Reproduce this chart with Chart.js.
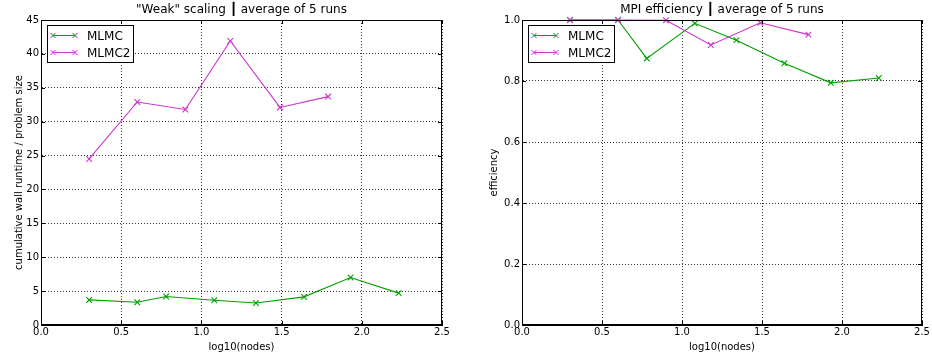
<!DOCTYPE html>
<html>
<head>
<meta charset="utf-8">
<script src="https://cdn.jsdelivr.net/npm/chart.js@4/dist/chart.umd.min.js"></script>
<style>
  html, body { margin: 0; padding: 0; background: #fff; }
  .box { position: absolute; top: 0; width: 466px; height: 355px; }
</style>
</head>
<body>
<div class="box" style="left:0"><canvas id="weak"></canvas></div>
<div class="box" style="left:466px"><canvas id="eff"></canvas></div>
<script>
// log10(nodes) for each run series
const xMLMC = [0.30, 0.60, 0.78, 1.08, 1.34, 1.64, 1.93, 2.23];
const xMLMC2 = [0.30, 0.60, 0.90, 1.18, 1.49, 1.79];

// cumulative wall runtime / problem size
const runtimeMLMC = [3.7, 3.35, 4.2, 3.65, 3.25, 4.15, 7.0, 4.7];
const runtimeMLMC2 = [24.5, 32.9, 31.8, 41.9, 32.1, 33.7];

// MPI efficiency
const effMLMC = [1.0, 1.0, 0.874, 0.989, 0.934, 0.858, 0.794, 0.810];
const effMLMC2 = [1.0, 1.0, 0.999, 0.918, 0.991, 0.952];

const xTicks = [0.0, 0.5, 1.0, 1.5, 2.0, 2.5];
const runtimeTicks = [0, 5, 10, 15, 20, 25, 30, 35, 40, 45];
const effTicks = [0.0, 0.2, 0.4, 0.6, 0.8, 1.0];

const GREEN = '#00a000';
const MAGENTA = '#cc33cc';
const FONT = 'DejaVu Sans';

function pts(xs, ys) {
    return xs.map((x, i) => ({ x: x, y: ys[i] }));
}

// order: lower is drawn on top, so MLMC2 sits over MLMC like in matplotlib
function series(label, color, xs, ys, order) {
    return {
        label: label,
        data: pts(xs, ys),
        order: order,
        borderColor: color,
        backgroundColor: color,
        borderWidth: 1.1,
        pointStyle: 'crossRot',
        pointRadius: 4,
        pointBorderWidth: 1.1,
        tension: 0,
        clip: false
    };
}

// title over the plot area, box frame, inward ticks and a matplotlib-like legend
const framePlugin = {
    id: 'frame',
    afterDraw(chart, args, opts) {
        const ctx = chart.ctx;
        const a = chart.chartArea;
        ctx.save();
        ctx.fillStyle = '#000';
        ctx.font = '12px "' + FONT + '"';
        ctx.textAlign = 'center';
        ctx.textBaseline = 'alphabetic';
        ctx.fillText(opts.title, (a.left + a.right) / 2, 13);

        ctx.strokeStyle = '#000';
        ctx.lineWidth = 1;
        ctx.setLineDash([]);
        ctx.strokeRect(a.left + 0.5, a.top + 0.5, a.right - a.left - 1, a.bottom - a.top - 1);

        const xs = chart.scales.x, ys = chart.scales.y;
        ctx.beginPath();
        xs.ticks.forEach(t => {
            const px = Math.round(xs.getPixelForValue(t.value)) + 0.5;
            ctx.moveTo(px, a.bottom); ctx.lineTo(px, a.bottom - 4);
            ctx.moveTo(px, a.top); ctx.lineTo(px, a.top + 4);
        });
        ys.ticks.forEach(t => {
            const py = Math.round(ys.getPixelForValue(t.value)) + 0.5;
            ctx.moveTo(a.left, py); ctx.lineTo(a.left + 4, py);
            ctx.moveTo(a.right, py); ctx.lineTo(a.right - 4, py);
        });
        ctx.stroke();

        // legend
        const lx = a.left + 6, ly = a.top + 5, lw = 86, lh = 37;
        ctx.fillStyle = '#fff';
        ctx.fillRect(lx, ly, lw, lh);
        ctx.strokeStyle = '#000';
        ctx.strokeRect(lx + 0.5, ly + 0.5, lw, lh);
        ctx.font = '12px "' + FONT + '"';
        ctx.textAlign = 'left';
        ctx.textBaseline = 'middle';
        chart.data.datasets.forEach((ds, i) => {
            const cy = ly + 10.5 + i * 17;
            const x0 = lx + 6, x1 = lx + 28;
            ctx.strokeStyle = ds.borderColor;
            ctx.beginPath();
            ctx.moveTo(x0, cy); ctx.lineTo(x1, cy);
            [x0, x1].forEach(x => {
                ctx.moveTo(x - 2.5, cy - 2.5); ctx.lineTo(x + 2.5, cy + 2.5);
                ctx.moveTo(x - 2.5, cy + 2.5); ctx.lineTo(x + 2.5, cy - 2.5);
            });
            ctx.stroke();
            ctx.fillStyle = '#000';
            ctx.fillText(ds.label, lx + 40, cy + 1);
        });
        ctx.restore();
    }
};

function makeChart(id, title, yTitle, datasets, yTicks, decimals, yWidth, padRight, titlePad) {
    return new Chart(document.getElementById(id).getContext('2d'), {
        type: 'line',
        data: { datasets: datasets },
        options: {
            responsive: true,
            maintainAspectRatio: false,
            animation: false,
            layout: { padding: { left: 0, right: padRight, top: 20, bottom: 0 } },
            plugins: {
                legend: { display: false },
                tooltip: { enabled: false },
                title: { display: false },
                frame: { title: title }
            },
            scales: {
                x: {
                    type: 'linear',
                    min: xTicks[0],
                    max: xTicks[xTicks.length - 1],
                    afterBuildTicks: s => { s.ticks = xTicks.map(v => ({ value: v })); },
                    afterFit: s => { s.height = 30; },
                    ticks: {
                        color: '#000',
                        font: { family: FONT, size: 10 },
                        padding: 1,
                        maxRotation: 0,
                        callback: v => v.toFixed(1)
                    },
                    grid: { color: '#333', lineWidth: 1, drawTicks: false },
                    border: { color: '#000', dash: [1, 2] },
                    title: {
                        display: true,
                        text: 'log10(nodes)',
                        color: '#000',
                        font: { family: FONT, size: 10 },
                        padding: { top: 0, bottom: 2 }
                    }
                },
                y: {
                    type: 'linear',
                    min: yTicks[0],
                    max: yTicks[yTicks.length - 1],
                    afterBuildTicks: s => { s.ticks = yTicks.map(v => ({ value: v })); },
                    afterFit: s => { s.width = yWidth; },
                    ticks: {
                        color: '#000',
                        font: { family: FONT, size: 10 },
                        padding: 2,
                        callback: v => v.toFixed(decimals)
                    },
                    grid: { color: '#333', lineWidth: 1, drawTicks: false },
                    border: { color: '#000', dash: [1, 2] },
                    title: {
                        display: true,
                        text: yTitle,
                        color: '#000',
                        font: { family: FONT, size: 10 },
                        padding: { top: titlePad, bottom: 0 }
                    }
                }
            }
        },
        plugins: [framePlugin]
    });
}

makeChart('weak', '"Weak" scaling ┃ average of 5 runs', 'cumulative wall runtime / problem size', [
    series('MLMC', GREEN, xMLMC, runtimeMLMC, 1),
    series('MLMC2', MAGENTA, xMLMC2, runtimeMLMC2, 0)
], runtimeTicks, 0, 41, 24, 13);

makeChart('eff', 'MPI efficiency ┃ average of 5 runs', 'efficiency', [
    series('MLMC', GREEN, xMLMC, effMLMC, 1),
    series('MLMC2', MAGENTA, xMLMC2, effMLMC2, 0)
], effTicks, 1, 56, 10, 22);
</script>
</body>
</html>
